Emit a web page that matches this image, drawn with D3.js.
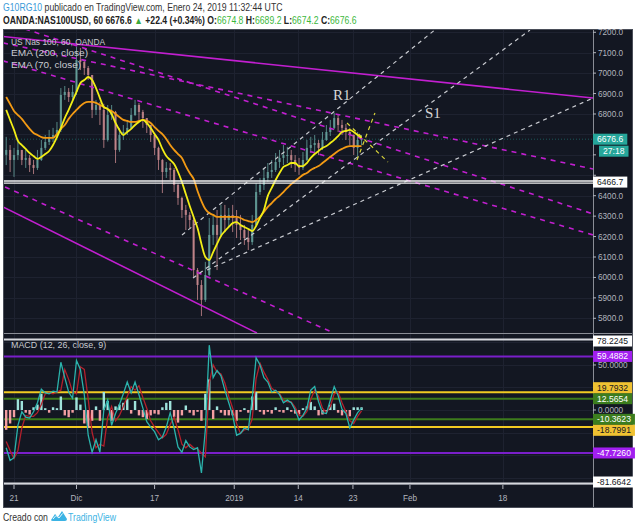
<!DOCTYPE html>
<html><head><meta charset="utf-8">
<script src="https://cdn.jsdelivr.net/npm/d3@7"></script>
<style>body{margin:0;background:#fff}svg{display:block}</style>
</head><body><svg id="c" width="640" height="529"></svg>
<script>
// ---------- DATA (time in trading-day units, t = 0 at Nov 21 2018) ----------
const sampleStart = -1, sampleStep = 0.5;
const closes = [6624,6575,6599,6624,6575,6585,6550,6536,6575,6634,
6663,6683,6697,6722,6893,6908,6883,6908,7064,7055,
7025,6991,6820,6844,6820,6673,6795,6810,6624,6697,
6712,6732,6795,6844,6810,6780,6746,6697,6634,6575,
6516,6536,6526,6453,6389,6330,6306,6281,6036,5963,
5890,6012,6208,6257,6208,6306,6281,6306,6291,6257,
6232,6193,6173,6257,6418,6453,6487,6516,6526,6565,
6585,6599,6599,6575,6550,6536,6575,6634,6648,6658,
6634,6673,6712,6732,6780,6746,6732,6712,6697,6634,
6673,6676.6];
const highs = [6688,6648,6634,6673,6624,6624,6599,6575,6624,6673,
6697,6722,6732,6761,6927,6937,6927,6942,7128,7123,
7064,7035,6991,6869,6859,6850,6844,6844,6815,6732,
6746,6771,6829,6869,6854,6820,6780,6746,6705,6640,
6580,6565,6560,6536,6460,6395,6355,6320,6291,6046,
5987,6076,6291,6306,6330,6355,6355,6340,6355,6330,
6306,6257,6232,6306,6462,6487,6536,6560,6575,6609,
6624,6648,6639,6624,6599,6585,6614,6673,6688,6697,
6673,6712,6746,6771,6805,6795,6771,6751,6732,6700,
6712,6697];
const lows = [6550,6516,6492,6575,6550,6536,6516,6506,6526,6570,
6624,6648,6663,6683,6712,6869,6859,6869,6893,7015,
6991,6967,6780,6795,6746,6634,6665,6771,6560,6615,
6673,6697,6725,6790,6771,6732,6707,6663,6599,6526,
6413,6487,6477,6418,6355,6291,6232,6242,5997,5890,
5811,5880,6005,6159,6036,6200,6222,6242,6222,6193,
6183,6159,6134,6159,6250,6404,6428,6467,6487,6516,
6536,6550,6560,6536,6516,6502,6526,6570,6609,6614,
6599,6624,6668,6692,6725,6712,6697,6673,6648,6599,
6585,6648];
const ema70 = [6820,6771,6722,6668,6648,6629,6609,6594,6580,6590,
6604,6619,6648,6687,6731,6780,6820,6864,6908,6952,
6966,6981,6966,6927,6878,6834,6824,6800,6756,6722,
6697,6712,6727,6746,6761,6771,6756,6731,6702,6673,
6629,6594,6575,6555,6516,6467,6408,6350,6296,6242,
6164,6100,6085,6124,6164,6203,6227,6247,6266,6271,
6257,6247,6237,6227,6252,6291,6330,6399,6438,6477,
6511,6541,6550,6560,6560,6545,6545,6560,6585,6604,
6619,6634,6643,6658,6673,6692,6712,6717,6722,6712,
6697,6683];
const ema200 = [6883,6849,6815,6795,6776,6751,6727,6707,6697,6687,
6683,6683,6683,6702,6727,6746,6776,6800,6820,6839,
6854,6859,6859,6854,6844,6834,6824,6815,6800,6785,
6771,6766,6761,6761,6766,6771,6766,6756,6736,6717,
6702,6678,6648,6624,6604,6585,6545,6511,6482,6423,
6374,6335,6315,6306,6296,6296,6296,6296,6296,6296,
6291,6281,6276,6271,6281,6296,6320,6345,6364,6384,
6399,6418,6438,6457,6472,6487,6502,6511,6526,6536,
6545,6560,6575,6590,6604,6619,6629,6638,6643,6643,
6643,6643];
const macdLine = [-42,-56,-53,-17,-2,-8,-9,-2,8,23,
19,18,21,20,53,36,20,13,55,45,
17,-28,-47,-33,-47,0,11,-17,-4,6,
18,31,19,31,17,2,-13,-19,-24,-33,
-30,-19,-3,-20,-41,-47,-34,-41,-44,-42,
-70,-22,72,36,44,38,22,8,-6,-28,
-26,-20,-22,13,58,50,36,31,20,22,
17,8,11,8,0,-11,-6,2,22,26,
9,-3,-4,11,26,16,1,-4,-20,-11,
-3,2];
const signalLine = [-35,-45,-54,-45,-20,-6,-7,-7,-3,6,
18,19,18,20,22,45,34,20,18,48,
45,12,-25,-42,-38,-40,-8,4,-12,-6,
4,15,26,22,27,14,2,-12,-19,-25,
-31,-27,-16,-8,-22,-38,-42,-38,-42,-43,
-48,-52,30,50,42,40,30,15,2,-15,
-26,-22,-21,-10,35,52,42,34,24,21,
18,11,9,9,3,-6,-7,-2,12,22,
15,2,-3,4,18,20,8,-2,-12,-15,
-7,-1];
const histogram = [-22,-15,-8,12,10,-3,-5,3,6,18,
2,-3,3,2,15,-6,-8,-3,14,6,
-15,-20,-12,4,-12,20,10,-12,4,6,
8,12,-4,10,-6,-8,-10,-6,-4,-5,
3,8,10,-8,-14,-6,5,-3,-6,-2,
-12,18,34,-10,4,-3,-6,-6,-6,-12,
-2,2,-3,15,20,-2,-5,-2,-4,3,
-2,-3,3,-2,-4,-5,2,4,9,4,
-6,-5,-2,6,7,-3,-6,-3,-7,3,
3,3];

const timeTicks = [0, 8, 18, 28.2, 36.4, 43.4, 50.7, 62.6];
const timeLabels = ["21","Dic","17","2019","14","23","Feb","18"];
const priceTicks = [5800,5900,6000,6100,6200,6300,6400,6500,6600,6700,6800,6900,7000,7100,7200];
const macdTicks = [-75,-50,-25,0,25,50,75];
const lastPrice = 6676.6, countdown = "27:18", hLevel = 6466.7;
const macdLevelValues = [78.2245, 59.4882, 19.7932, 12.5654, -10.3623, -18.7991, -47.7260, -81.6642];
const macdLevelKinds  = ["white","purple","yellow","green","green","yellow","purple","white"];

// trend-line drawings: [t1, price1, t2, price2]
const solidMagenta = [[-1.41,7179,74.14,6878],[-1.41,6345,31.11,5728]];
const dashedMagenta = [[-1.41,7148,74.14,6531],[1.41,7216,74.14,6311],[-1.41,7060,74.14,6208],[-1.15,6443,40.97,5728]];
const dashedWhite = [[21.51,6208,54.03,7216],[24.71,6036,74.14,6878],[22.92,5997,66.07,7211]];
const dashedYellow = [[42.64,6756,47.89,6565],[43.92,6575,46.22,6805]];
const notes = [{text:"R1", t:40.85, p:6869},{text:"S1", t:52.62, p:6781}];

// ---------- LAYOUT ----------
const L=3, R=593, RA=633, mainTop=29, mainBot=333, macdTop=334, macdBot=484, axisBot=508;
const BG="#131722", GRID="#1e2230", AXT="#b2b5be", BORDER="#4a4e59";
const SANS="Liberation Sans, Arial, sans-serif";
const svg = d3.select("#c");
const x = d3.scaleLinear().domain([-1.41, 74.14]).range([L, R]);
const y = d3.scaleLinear().domain([5728, 7216]).range([mainBot, mainTop]);
const ym = d3.scaleLinear().domain([-83.3, 84.4]).range([485, 334]);
const tOf = i => sampleStart + i*sampleStep;

svg.append("rect").attr("width",640).attr("height",529).attr("fill","#fff");

// text line squeezed horizontally to a target width via transform (keeps glyph boxes consistent)
function squeezed(parent, x0, y0, width, attrs, parts){
  const g = parent.append("g");
  const t = g.append("text").attr("x",0).attr("y",0);
  Object.entries(attrs).forEach(([k,v])=>t.attr(k,v));
  parts.forEach(p=>{ const s=t.append("tspan").text(p.text); if(p.fill) s.attr("fill",p.fill); if(p.weight) s.attr("font-weight",p.weight); });
  const w = t.node().getComputedTextLength();
  g.attr("transform",`translate(${x0},${y0}) scale(${width/w},1)`);
  return g;
}

// header
squeezed(svg,3,10.8,280,{"font-family":SANS,"font-size":10},
  [{text:"G10RG10",fill:"#3a9ad9"},{text:" publicado en TradingView.com, Enero 24, 2019 11:32:44 UTC",fill:"#333"}]);
const hp = [{text:"OANDA:NAS100USD, 60  6676.6 "},{text:"▲",fill:"#3ca83c"},{text:" +22.4 (+0.34%) "}];
[["O:","6674.8"],["H:","6689.2"],["L:","6674.2"],["C:","6676.6"]].forEach((d,k)=>{
  hp.push({text:d[0]}); hp.push({text:d[1]+(k<3?" ":""),fill:"#3cb83c",weight:"normal"});
});
squeezed(svg,3,24,354,{"font-family":SANS,"font-size":10,"font-weight":"bold","fill":"#222"},hp);

// chart background
svg.append("rect").attr("x",L).attr("y",mainTop).attr("width",RA-L).attr("height",axisBot-mainTop).attr("fill",BG);

const defs = svg.append("defs");
defs.append("clipPath").attr("id","cm").append("rect").attr("x",L).attr("y",mainTop).attr("width",R-L).attr("height",mainBot-mainTop);
defs.append("clipPath").attr("id","cd").append("rect").attr("x",L).attr("y",macdTop).attr("width",R-L).attr("height",macdBot-macdTop);

// grid
const grid = svg.append("g").attr("stroke",GRID).attr("stroke-width",1);
timeTicks.forEach(t=>grid.append("line").attr("x1",Math.round(x(t))+.5).attr("x2",Math.round(x(t))+.5).attr("y1",mainTop).attr("y2",macdBot));
priceTicks.forEach(p=>grid.append("line").attr("x1",L).attr("x2",R).attr("y1",Math.round(y(p))+.5).attr("y2",Math.round(y(p))+.5));
macdTicks.forEach(v=>grid.append("line").attr("x1",L).attr("x2",R).attr("y1",Math.round(ym(v))+.5).attr("y2",Math.round(ym(v))+.5));

// ---------- MAIN PANE ----------
const gm = svg.append("g").attr("clip-path","url(#cm)");
const seg = (g, arr, color, w, dash) => arr.forEach(d=>g.append("line")
  .attr("x1",x(d[0])).attr("y1",y(d[1])).attr("x2",x(d[2])).attr("y2",y(d[3]))
  .attr("stroke",color).attr("stroke-width",w).attr("stroke-dasharray",dash||null));

gm.append("line").attr("x1",L).attr("x2",R).attr("y1",y(lastPrice)).attr("y2",y(lastPrice))
  .attr("stroke","#26a69a").attr("stroke-opacity",0.45).attr("stroke-dasharray","1,2");

const gc = gm.append("g");
closes.forEach((c,i)=>{
  const o = i ? closes[i-1] : 6600;
  const col = c >= o ? "#67a39d" : "#c98a8e";
  const cx = x(tOf(i));
  gc.append("line").attr("x1",cx).attr("x2",cx).attr("y1",y(highs[i])).attr("y2",y(lows[i])).attr("stroke",col).attr("stroke-width",1).attr("stroke-opacity",0.8);
  const yt = y(Math.max(o,c)), yb = y(Math.min(o,c));
  gc.append("rect").attr("x",cx-1.1).attr("width",2.2).attr("y",yt).attr("height",Math.max(1,yb-yt)).attr("fill",col).attr("fill-opacity",0.8);
});

seg(gm, solidMagenta, "#c21fd0", 1.6);
seg(gm, dashedMagenta, "#c21fd0", 1.6, "5,5");
seg(gm, dashedWhite, "#c9cbd1", 1.2, "4,4");
seg(gm, dashedYellow, "#d8d43a", 1.2, "4,4");

const lineGen = d3.line().x((d,i)=>x(tOf(i))).y(d=>y(d)).curve(d3.curveMonotoneX);
gm.append("path").attr("d",lineGen(ema200)).attr("fill","none").attr("stroke","#f39a14").attr("stroke-width",1.8);
gm.append("path").attr("d",lineGen(ema70)).attr("fill","none").attr("stroke","#f2ee16").attr("stroke-width",1.8);

[-1.1,1.1].forEach(o=>gm.append("line").attr("x1",L).attr("x2",R).attr("y1",y(hLevel)+o).attr("y2",y(hLevel)+o)
  .attr("stroke","#f0f0f0").attr("stroke-width",1.3));

notes.forEach(n=>gm.append("text").attr("x",x(n.t)).attr("y",y(n.p)).attr("font-family","Liberation Serif, serif")
  .attr("font-size",15).attr("fill","#d6d6d6").text(n.text));

// legend
[["US Nas 100, 60, OANDA",45,94],["EMA (200, close)",56.3,77],["EMA (70, close)",67.6,70]].forEach(d=>
  squeezed(svg,11,d[1],d[2],{"font-family":SANS,"font-size":9.4,"fill":"#c8cad0"},[{text:d[0]}]));

// ---------- MACD PANE ----------
const gd = svg.append("g").attr("clip-path","url(#cd)");
const colors = {white:"#d6d8dd", purple:"#7a1fc9", yellow:"#f2cb22", green:"#3d7b1c"};
const boxCol = {white:"#ffffff", purple:"#a21ff0", yellow:"#f0c232", green:"#3c7d1e"};
const boxTxt = {white:"#131722", purple:"#ffffff", yellow:"#131722", green:"#ffffff"};
macdLevelValues.forEach((v,k)=>{
  gd.append("line").attr("x1",L).attr("x2",R).attr("y1",ym(v)).attr("y2",ym(v))
    .attr("stroke",colors[macdLevelKinds[k]]).attr("stroke-width",2);
});
histogram.forEach((h,i)=>{
  const cx = x(tOf(i));
  gd.append("rect").attr("x",cx-1.2).attr("width",2.4).attr("y",Math.min(ym(0),ym(h))).attr("height",Math.abs(ym(h)-ym(0)))
    .attr("fill", h>=0 ? "#9fe3dc" : "#f49ea2");
});
const ml = d3.line().x((d,i)=>x(tOf(i))).y(d=>ym(d));
gd.append("path").attr("d",ml(signalLine)).attr("fill","none").attr("stroke","#b3202c").attr("stroke-width",1.3);
gd.append("path").attr("d",ml(macdLine)).attr("fill","none").attr("stroke","#2bb3ac").attr("stroke-width",1.3);
squeezed(svg,11,348,95,{"font-family":SANS,"font-size":9.4,"fill":"#c8cad0"},[{text:"MACD (12, 26, close, 9)"}]);

// separators / borders
const sep = svg.append("g").attr("stroke","#8a8d96");
sep.append("line").attr("x1",L).attr("x2",RA).attr("y1",333.5).attr("y2",333.5);
sep.append("line").attr("x1",L).attr("x2",RA).attr("y1",484.5).attr("y2",484.5);
sep.append("line").attr("x1",R+.5).attr("x2",R+.5).attr("y1",mainTop).attr("y2",axisBot);
svg.append("rect").attr("x",L+.5).attr("y",mainTop+.5).attr("width",RA-L-1).attr("height",axisBot-mainTop-1).attr("fill","none").attr("stroke",BORDER);

// ---------- LABEL BOXES ----------
const boxes = [];
boxes.push({cy:y(lastPrice), txt:lastPrice.toFixed(1), bg:"#26a69a", fg:"#fff", x0:593});
boxes.push({cy:y(lastPrice)+12, txt:countdown, bg:"#26a69a", fg:"#fff", x0:599});
boxes.push({cy:y(hLevel), txt:hLevel.toFixed(1), bg:"#ffffff", fg:"#131722", x0:593});
const placed = [];
["white","purple","green","yellow"].forEach(kind=>{
  macdLevelValues.forEach((v,k)=>{
    if (macdLevelKinds[k]!==kind) return;
    let cy = ym(v);
    placed.forEach(p=>{ if (Math.abs(cy-p)<11) cy = p + (cy>=p?11:-11); });
    cy = Math.max(macdTop+7, Math.min(macdBot-2, cy));
    placed.push(cy);
    boxes.push({cy, txt:v.toFixed(4), bg:boxCol[kind], fg:boxTxt[kind], x0:593});
  });
});
const covered = yy => boxes.some(b=>Math.abs(b.cy-yy) < 7.5);

// ---------- AXES ----------
const ax = svg.append("g").attr("font-family",SANS).attr("font-size",8.2).attr("fill",AXT);
priceTicks.forEach(p=>{
  ax.append("line").attr("x1",R).attr("x2",R+3).attr("y1",y(p)).attr("y2",y(p)).attr("stroke",AXT);
  if (!covered(y(p))) ax.append("text").attr("x",598).attr("y",y(p)+3).text(p.toFixed(1));
});
macdTicks.forEach(v=>{
  ax.append("line").attr("x1",R).attr("x2",R+3).attr("y1",ym(v)).attr("y2",ym(v)).attr("stroke",AXT);
  if (!covered(ym(v))) ax.append("text").attr("x",598).attr("y",ym(v)+3.5).text(v.toFixed(4));
});
timeTicks.forEach((t,k)=>{
  ax.append("line").attr("x1",x(t)).attr("x2",x(t)).attr("y1",485).attr("y2",489).attr("stroke",AXT);
  ax.append("text").attr("x",x(t)).attr("y",501).attr("text-anchor","middle").text(timeLabels[k]);
});

boxes.forEach(b=>{
  const g = svg.append("g");
  const t = g.append("text").attr("x",b.x0+4).attr("y",b.cy+3).attr("font-family",SANS)
    .attr("font-size",8.6).attr("fill",b.fg).text(b.txt);
  const w = t.node().getComputedTextLength();
  g.insert("rect","text").attr("x",b.x0).attr("y",b.cy-5.5).attr("width",w+8).attr("height",11).attr("fill",b.bg);
});

// footer
squeezed(svg,3,521,45,{"font-family":SANS,"font-size":10,"fill":"#333"},[{text:"Creado con"}]);
svg.append("path").attr("d","M51,520 L55,514 L58,517 L62,511 L67,519 Q67,521 65,521 L53,521 Q51,521 51,520 Z").attr("fill","#3bb3e4");
svg.append("path").attr("d","M53,519 L56,515.5 L59,518 L62.5,513.5").attr("fill","none").attr("stroke","#fff").attr("stroke-width",0.9);
squeezed(svg,68,521,48,{"font-family":SANS,"font-size":10,"fill":"#3bb3e4"},[{text:"TradingView"}]);
</script></body></html>
